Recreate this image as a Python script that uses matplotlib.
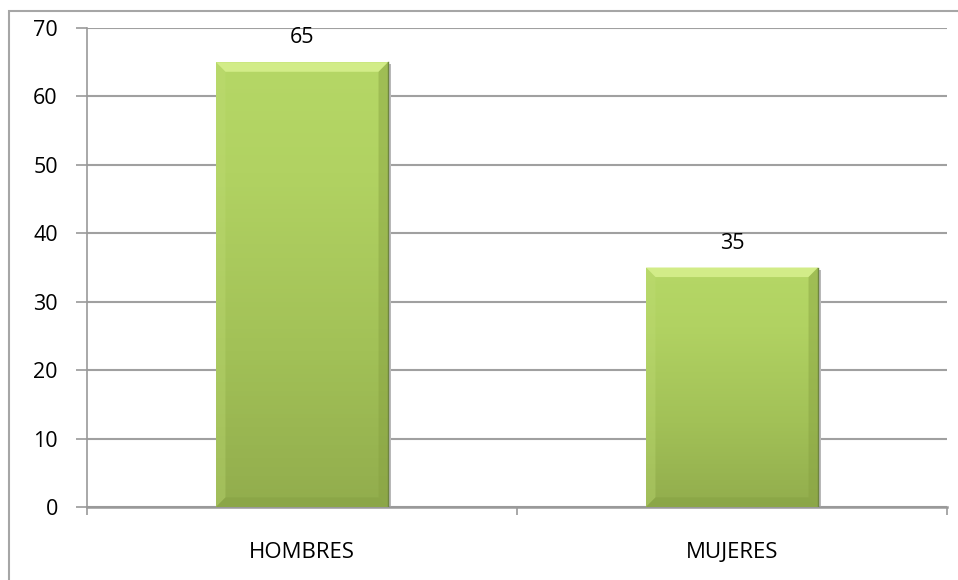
import numpy as np
import matplotlib.pyplot as plt
from matplotlib.patches import Rectangle, Polygon
from matplotlib.colors import LinearSegmentedColormap

# data
categories = ['HOMBRES', 'MUJERES']
values = [65, 35]
y_ticks = [0, 10, 20, 30, 40, 50, 60, 70]

plt.rcParams['font.family'] = ['Open Sans', 'DejaVu Sans']

fig = plt.figure(figsize=(9.58, 5.8), dpi=100)
ax = fig.add_axes([87 / 958, 1 - 507 / 580, 860 / 958, 479 / 580])

# outer frame of the chart (only top and left edges show in the crop)
fig.patches.append(Rectangle((9 / 958, -0.1), 1.2, 1 - 11 / 580 + 0.1,
                             transform=fig.transFigure, fill=False,
                             edgecolor='#a6a6a6', lw=1.5, zorder=0))

x = np.arange(len(categories))
bars = ax.bar(x, values, width=0.40, color='#b0d061', zorder=3,
              edgecolor='#8a9c60', lw=0.6)

# vertical gradient inside each bar, light on top, darker olive at the bottom
grad = LinearSegmentedColormap.from_list(
    'g', [(0, '#92ad4d'), (0.35, '#a2c157'), (0.75, '#b1d262'), (1, '#b5d766')])
bx = 0.022   # bevel width in x (axis units)
by = 1.4     # bevel height in y (data units)
for i, b in enumerate(bars):
    x0, w, h = b.get_x(), b.get_width(), b.get_height()
    x1 = x0 + w
    # soft shadow right of the bar
    ax.add_patch(Rectangle((x1, -0.3), 0.006, h, color='#b8b8b8', lw=0, zorder=2.5))
    img = np.linspace(0, 1, 100).reshape(-1, 1)
    im = ax.imshow(img, cmap=grad, origin='lower', aspect='auto',
                   extent=(x0, x1, 0, h), zorder=3.5)
    im.set_clip_path(b)
    # bevel edges
    ax.add_patch(Polygon([(x0, h), (x1, h), (x1 - bx, h - by), (x0 + bx, h - by)],
                         closed=True, color='#d2ec88', lw=0, zorder=4))
    ax.add_patch(Polygon([(x0, h), (x0 + bx, h - by), (x0 + bx, by), (x0, 0)],
                         closed=True, color='#c0dd76', alpha=0.35, lw=0, zorder=4))
    ax.add_patch(Polygon([(x1, h), (x1 - bx, h - by), (x1 - bx, by), (x1, 0)],
                         closed=True, color='#86a040', alpha=0.45, lw=0, zorder=4))
    ax.add_patch(Polygon([(x0, 0), (x1, 0), (x1 - bx, by), (x0 + bx, by)],
                         closed=True, color='#7e9a3c', alpha=0.35, lw=0, zorder=4))
    ax.plot([x1, x1], [h, 0], color='#6f8540', lw=1.0, zorder=4.5)
    # value label
    ax.annotate(str(values[i]), (x0 + w / 2, h),
                xytext=(0, 10), textcoords='offset points',
                ha='center', va='bottom', fontsize=15.5, color='#000000')

ax.set_xlim(-0.5, len(categories) - 0.5)
ax.set_ylim(0, 70)
ax.set_yticks(y_ticks)
ax.set_xticks(x)
ax.set_xticklabels(categories, fontsize=16)
ax.set_xticks(np.arange(len(categories) + 1) - 0.5, minor=True)
ax.tick_params(axis='x', which='major', length=0, pad=25)
ax.tick_params(axis='x', which='minor', length=6, color='#999999', width=1.2)
ax.tick_params(axis='y', length=8, color='#999999', width=1.2, pad=13, labelsize=15.5)

ax.yaxis.grid(True, color='#a0a0a0', lw=1.5, zorder=1)
ax.set_axisbelow(True)
for s in ['top', 'right']:
    ax.spines[s].set_visible(False)
ax.spines['left'].set_color('#999999')
ax.spines['left'].set_linewidth(1.2)
ax.spines['bottom'].set_color('#999999')
ax.spines['bottom'].set_linewidth(1.8)

plt.savefig('out.png', dpi=100)
